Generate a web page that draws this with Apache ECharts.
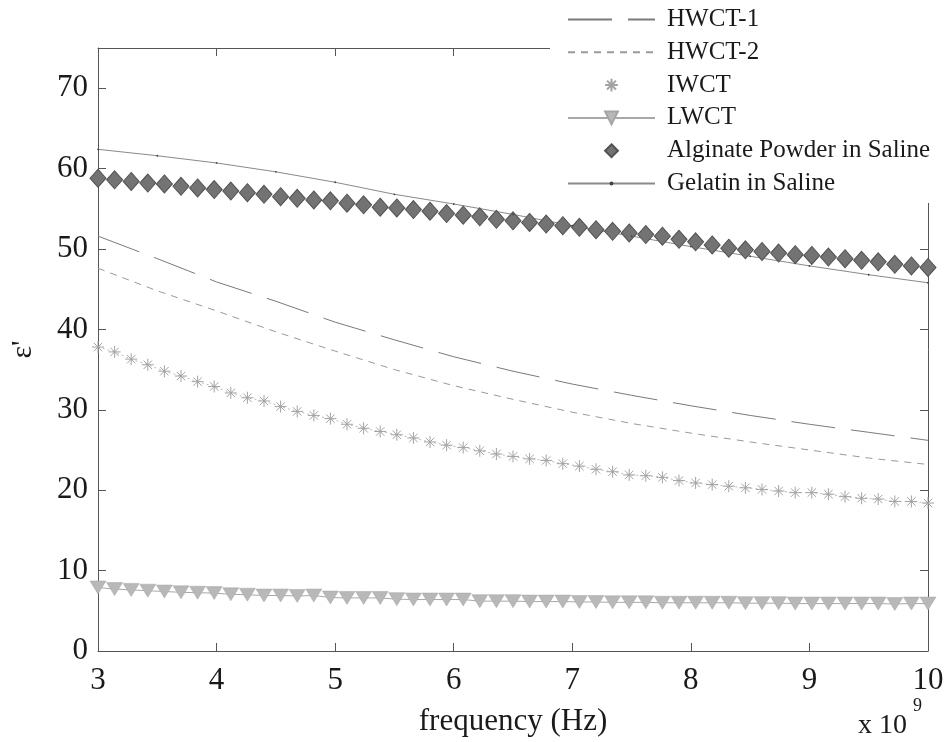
<!DOCTYPE html>
<html>
<head>
<meta charset="utf-8">
<script src="https://cdn.jsdelivr.net/npm/echarts@6/dist/echarts.min.js"></script>
<style>
  html, body { margin: 0; padding: 0; background: #fff; }
  #chart { width: 948px; height: 742px; }
</style>
</head>
<body>
<div id="chart"></div>
<script>
// Frequency in units of 1e9 Hz
const freqMarked = [
  3.00, 3.14, 3.28, 3.42, 3.56, 3.70, 3.84, 3.98, 4.12, 4.26,
  4.40, 4.54, 4.68, 4.82, 4.96, 5.10, 5.24, 5.38, 5.52, 5.66,
  5.80, 5.94, 6.08, 6.22, 6.36, 6.50, 6.64, 6.78, 6.92, 7.06,
  7.20, 7.34, 7.48, 7.62, 7.76, 7.90, 8.04, 8.18, 8.32, 8.46,
  8.60, 8.74, 8.88, 9.02, 9.16, 9.30, 9.44, 9.58, 9.72, 9.86,
  10.00
];
const freqLine = [3.0, 3.5, 4.0, 4.5, 5.0, 5.5, 6.0, 6.5, 7.0, 7.5, 8.0, 8.5, 9.0, 9.5, 10.0];

// Real permittivity of each tissue phantom
const hwct1 = [51.6, 48.8, 45.9, 43.5, 40.9, 38.7, 36.6, 34.8, 33.2, 31.8, 30.5, 29.3, 28.2, 27.2, 26.2];
const hwct2 = [47.6, 44.8, 42.3, 39.7, 37.3, 35.0, 33.0, 31.3, 29.7, 28.3, 27.1, 26.0, 25.0, 24.0, 23.2];
const gelatin = [62.4, 61.6, 60.7, 59.6, 58.3, 56.8, 55.6, 54.3, 52.9, 51.6, 50.3, 49.1, 47.9, 46.8, 45.8];
const iwct = [
  37.8, 37.2, 36.3, 35.6, 34.8, 34.2, 33.5, 32.9, 32.1, 31.5,
  31.1, 30.4, 29.8, 29.3, 28.9, 28.2, 27.7, 27.3, 26.9, 26.5,
  26.0, 25.6, 25.3, 24.9, 24.5, 24.2, 23.9, 23.7, 23.3, 23.0,
  22.6, 22.3, 21.9, 21.8, 21.6, 21.2, 20.9, 20.7, 20.5, 20.3,
  20.1, 19.9, 19.7, 19.7, 19.5, 19.2, 19.0, 18.9, 18.6, 18.6,
  18.4
];
const lwct = [
  7.9, 7.7, 7.6, 7.5, 7.4, 7.3, 7.25, 7.2, 7.05, 7.0,
  6.9, 6.9, 6.85, 6.9, 6.65, 6.6, 6.6, 6.6, 6.45, 6.4,
  6.4, 6.4, 6.4, 6.2, 6.2, 6.2, 6.15, 6.15, 6.15, 6.1,
  6.1, 6.05, 6.05, 6.05, 6.0, 6.0, 6.0, 6.0, 6.0, 5.95,
  5.95, 5.95, 5.9, 5.9, 5.9, 5.9, 5.9, 5.9, 5.85, 5.9,
  5.9
];
const alginate = [
  58.8, 58.6, 58.4, 58.2, 58.1, 57.8, 57.6, 57.4, 57.2, 57.0,
  56.8, 56.5, 56.3, 56.1, 56.0, 55.7, 55.5, 55.2, 55.1, 54.9,
  54.7, 54.4, 54.2, 54.0, 53.7, 53.5, 53.3, 53.1, 52.9, 52.7,
  52.4, 52.2, 52.0, 51.8, 51.6, 51.2, 50.9, 50.5, 50.1, 49.9,
  49.7, 49.5, 49.3, 49.2, 49.0, 48.8, 48.6, 48.4, 48.1, 47.9,
  47.7
];
const xTicks = [3, 4, 5, 6, 7, 8, 9, 10];

const serif = '"Liberation Serif", "DejaVu Serif", serif';
const pair = (xs, ys) => xs.map((x, i) => [x, ys[i]]);
// asterisk marker, stroked
const starPath = 'path://M-10,0L10,0M0,-10L0,10M-7,-7L7,7M-7,7L7,-7';
// small dot inside a wider invisible box, so the marker stays tiny
const dotPath = 'path://M-10,-10M10,10M-3,0A3,3,0,1,1,3,0A3,3,0,1,1,-3,0Z';

const axisColor = '#555';
const frameAxis = {
  axisLine: { onZero: false, lineStyle: { color: axisColor, width: 1 } },
  axisTick: { inside: true, length: 8, lineStyle: { color: axisColor } },
  splitLine: { show: false }
};

const chart = echarts.init(document.getElementById('chart'));
chart.setOption({
  animation: false,
  backgroundColor: '#fff',
  grid: { left: 96, top: 48, width: 832, height: 609, containLabel: false },
  legend: {
    orient: 'vertical',
    left: 562,
    top: 2,
    z: 100,
    itemWidth: 87,
    itemHeight: 16,
    itemGap: 7.8,
    textStyle: { fontFamily: serif, fontSize: 25, color: '#1a1a1a', padding: [0, 0, 0, 7] },
    data: [
      { name: 'HWCT-1', itemStyle: { opacity: 0 } },
      { name: 'HWCT-2', itemStyle: { opacity: 0 } },
      { name: 'IWCT', lineStyle: { opacity: 0 } },
      { name: 'LWCT' },
      { name: 'Alginate Powder in Saline' },
      { name: 'Gelatin in Saline' }
    ]
  },
  xAxis: [Object.assign({
    type: 'value', min: 3, max: 10, interval: 1,
    axisLabel: { fontFamily: serif, fontSize: 31, color: '#1a1a1a', margin: 14,
                 formatter: v => xTicks.includes(v) ? String(v) : '' },
    name: 'frequency (Hz)', nameLocation: 'middle', nameGap: 55,
    nameTextStyle: { fontFamily: serif, fontSize: 31, color: '#1a1a1a' }
  }, frameAxis), Object.assign({
    type: 'value', min: 3, max: 10, interval: 1, position: 'top',
    axisLabel: { show: false }
  }, frameAxis)],
  yAxis: [Object.assign({
    type: 'value', min: 0, max: 75, interval: 10,
    axisLabel: { fontFamily: serif, fontSize: 31, color: '#1a1a1a', margin: 10, showMaxLabel: false },
    name: "ε'", nameLocation: 'middle', nameGap: 60, nameRotate: 90,
    nameTextStyle: { fontFamily: serif, fontSize: 30, color: '#1a1a1a' }
  }, frameAxis, { axisLine: { show: true, onZero: false, lineStyle: { color: axisColor, width: 1 } },
                  axisTick: { show: true, inside: true, length: 8, lineStyle: { color: axisColor } } }),
  Object.assign({
    type: 'value', min: 0, max: 75, interval: 10, position: 'right',
    axisLabel: { show: false }
  }, frameAxis, { axisLine: { show: true, onZero: false, lineStyle: { color: axisColor, width: 1 } },
                  axisTick: { show: true, inside: true, length: 8, lineStyle: { color: axisColor } } })],
  series: [
    {
      name: 'HWCT-1', type: 'line', data: pair(freqLine, hwct1), symbol: 'none',
      color: '#7a7a7a',
      lineStyle: { color: '#7a7a7a', width: 1, type: [44, 16] }
    },
    {
      name: 'HWCT-2', type: 'line', data: pair(freqLine, hwct2), symbol: 'none',
      color: '#9a9a9a',
      lineStyle: { color: '#9a9a9a', width: 1, type: [7, 6] }
    },
    {
      name: 'IWCT', type: 'line', data: pair(freqMarked, iwct),
      symbol: starPath, symbolSize: 12,
      color: '#a0a0a0',
      itemStyle: { color: 'rgba(0,0,0,0)', borderColor: '#a3a3a3', borderWidth: 1 },
      lineStyle: { color: '#bdbdbd', width: 1, type: [2, 3] }
    },
    {
      name: 'LWCT', type: 'line', data: pair(freqMarked, lwct),
      symbol: 'triangle', symbolRotate: 180, symbolSize: [16, 13],
      color: '#b4b4b4',
      itemStyle: { color: '#b8b8b8', borderColor: '#a5a5a5', borderWidth: 0.5 },
      lineStyle: { color: '#a8a8a8', width: 1 }
    },
    {
      name: 'Alginate Powder in Saline', type: 'line', data: pair(freqMarked, alginate),
      symbol: 'diamond', symbolSize: [16, 18],
      color: '#6e6e6e',
      itemStyle: { color: '#737373', borderColor: '#525252', borderWidth: 1 },
      lineStyle: { opacity: 0, width: 0 }
    },
    {
      name: 'Gelatin in Saline', type: 'line', data: pair(freqLine, gelatin),
      symbol: dotPath, symbolSize: 6,
      color: '#8a8a8a',
      itemStyle: { color: '#444' },
      lineStyle: { color: '#8a8a8a', width: 1 }
    }
  ],
  graphic: [
    { type: 'rect', z: 90, shape: { x: 550, y: 0, width: 398, height: 203 }, style: { fill: '#fff' } },
    { type: 'text', z: 90, left: 858, top: 712, style: { text: 'x 10', font: '28px ' + serif, fill: '#1a1a1a' } },
    { type: 'text', z: 90, left: 913, top: 697, style: { text: '9', font: '18px ' + serif, fill: '#1a1a1a' } }
  ]
});
</script>
</body>
</html>
